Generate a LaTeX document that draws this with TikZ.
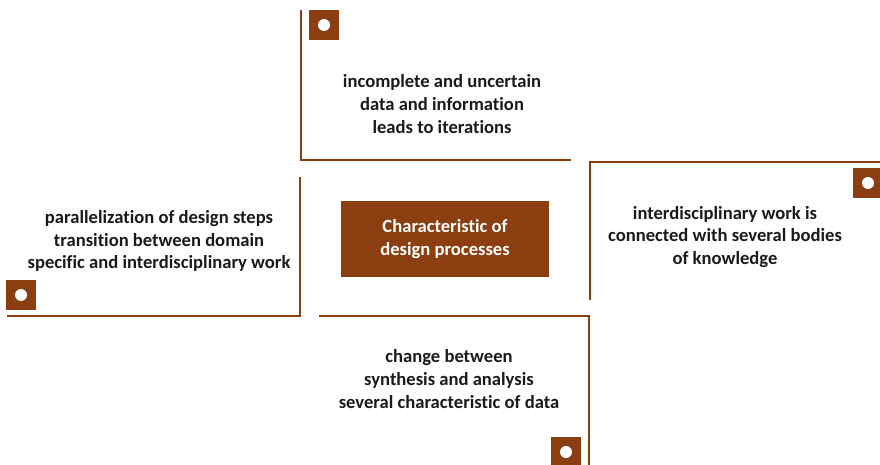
\documentclass[tikz,border=0pt]{standalone}
\usepackage{fontspec}
\setmainfont{Carlito}[Ligatures=NoCommon]
\usetikzlibrary{positioning}
\definecolor{mbrown}{RGB}{139, 62, 16}
\definecolor{mtext}{RGB}{26, 26, 26}
\tikzset{frame/.style = {draw=mbrown, line width=2}}
\tikzset{marker/.style = {fill=mbrown, inner sep=0, minimum size=30}}
\tikzset{dot/.style = {fill=white, circle, inner sep=0, minimum size=12}}
\tikzset{txt/.style = {align=center, text=mtext,
                       font=\bfseries\fontsize{18.6}{22.6}\selectfont}}
\tikzset{core/.style = {fill=mbrown, text=white, align=center, minimum width=208,
                        minimum height=76, font=\bfseries\fontsize{18.6}{22.6}\selectfont}}

\begin{document}
\begin{tikzpicture}[x=1pt, y=-1pt]
    \useasboundingbox (0, 0) rectangle (880, 465);
    \clip (0, 0) rectangle (880, 465);

    \draw [frame] (301, 10) -- (301, 160) -- (571, 160);
    \draw [frame] (590, 300) -- (590, 162) -- (880, 162);
    \draw [frame] (300, 177) -- (300, 316) -- (7, 316);
    \draw [frame] (319, 316) -- (589, 316) -- (589, 465);

    \foreach \n/\x/\y in {top/324/25, right/868/183, left/21/295, bottom/566/452} {
      \node [marker] (\n) at (\x, \y) {};
      \node [dot] at (\n) {};
    }

    \node [core] (char) at (445, 239) {Characteristic of\\design processes};

    \node [txt] (data) at (442, 104) {incomplete and uncertain\\data and information\\leads to iterations};
    \node [txt] (inter) at (725, 237) {interdisciplinary work is\\connected with several bodies\\of knowledge};
    \node [txt] (steps) at (159, 241) {parallelization of design steps\\transition between domain\\specific and interdisciplinary work};
    \node [txt] (synth) at (449, 379) {change between\\synthesis and analysis\\several characteristic of data};
  \end{tikzpicture}
\end{document}
